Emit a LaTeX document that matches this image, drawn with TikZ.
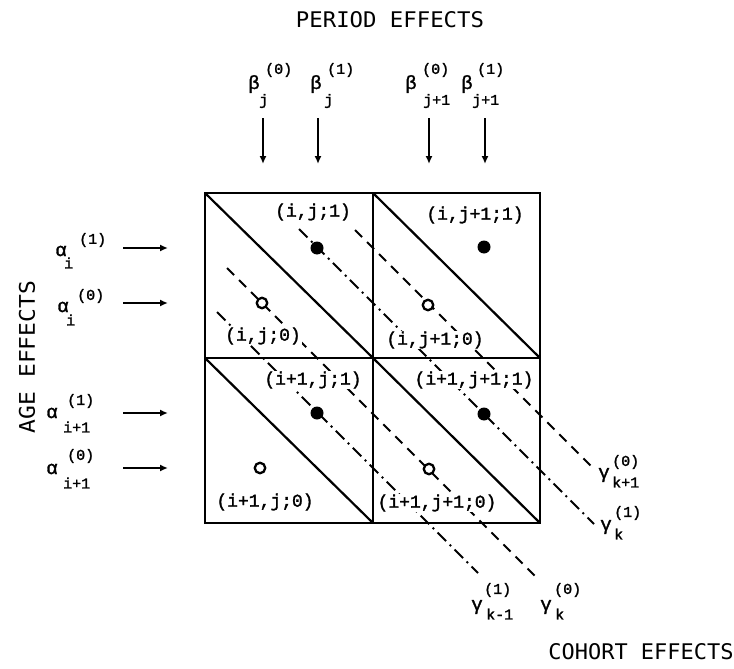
\documentclass[tikz,border=0pt]{standalone}
\usepackage{fontspec}
\setmainfont{Liberation Mono}[UprightFeatures={FakeBold=1.6}]
\newfontfamily\headfont{DejaVu Sans Mono}
\usetikzlibrary{arrows.meta}
\tikzset{
  gridline/.style={line width=2.6pt},
  diagline/.style={line width=2.2pt},
  dsh/.style={line width=2pt, dash pattern=on 10pt off 7pt},
  dshdot/.style={line width=2pt, dash pattern=on 12pt off 5pt on 2pt off 5pt},
  arr/.style={line width=2.2pt, -{Latex[length=8pt,width=7pt]}},
  lbl/.style={font=\fontsize{18}{18}\selectfont, fill=white, inner sep=1pt},
  greek/.style={font=\fontsize{19}{19}\selectfont, inner sep=0pt},
  idx/.style={font=\fontsize{15}{15}\selectfont, inner sep=0pt, anchor=west},
  fdot/.style={circle, fill=black, minimum size=13pt, inner sep=0pt},
  odot/.style={circle, draw, fill=white, line width=2.3pt, minimum size=10.5pt, inner sep=0pt},
  head/.style={inner sep=0pt}
}
\begin{document}
\begin{tikzpicture}[x=1pt,y=-1pt]
\useasboundingbox (0,0) rectangle (734,669);
% headings
\node[head] (period) at (390,20) {\resizebox{188pt}{16pt}{\headfont PERIOD EFFECTS}};
\node[head, rotate=90] (age) at (27,357) {\resizebox{152pt}{16pt}{\headfont AGE EFFECTS}};
\node[head] (cohort) at (641,652) {\resizebox{185pt}{16pt}{\headfont COHORT EFFECTS}};
% grid coordinates
\coordinate (g00) at (205,193); \coordinate (g10) at (373,193); \coordinate (g20) at (540,193);
\coordinate (g01) at (205,358); \coordinate (g11) at (373,358); \coordinate (g21) at (540,358);
\coordinate (g02) at (205,523); \coordinate (g12) at (373,523); \coordinate (g22) at (540,523);
% cohort lines
\coordinate (cA1) at (355,230); \coordinate (cA2) at (594,469);
\coordinate (cB1) at (299,229); \coordinate (cB2) at (594,524);
\coordinate (cC1) at (227,268); \coordinate (cC2) at (537,578);
\coordinate (cD1) at (217,312); \coordinate (cD2) at (478,573);
\draw[dsh] (cA1) -- (cA2);
\draw[dshdot] (cB1) -- (cB2);
\draw[dsh] (cC1) -- (cC2);
\draw[dshdot] (cD1) -- (cD2);
% cell labels
\node[lbl] (l1) at (313,212) {(i,j;1)};
\node[lbl] (l2) at (263,336) {(i,j;0)};
\node[lbl] (l3) at (475,215) {(i,j+1;1)};
\node[lbl] (l4) at (435,340) {(i,j+1;0)};
\node[lbl] (l5) at (313,380) {(i+1,j;1)};
\node[lbl] (l6) at (265,502) {(i+1,j;0)};
\node[lbl] (l7) at (474,380) {(i+1,j+1;1)};
\node[lbl] (l8) at (437,503) {(i+1,j+1;0)};
% grid
\draw[gridline] (g00) rectangle (g22);
\draw[gridline] (g10) -- (g12);
\draw[gridline] (g01) -- (g21);
\draw[diagline] (g00) -- (g11);
\draw[diagline] (g10) -- (g21);
\draw[diagline] (g01) -- (g12);
\draw[diagline] (g11) -- (g22);
% dots
\node[fdot] (f1) at (317,248) {};
\node[fdot] (f2) at (484,247) {};
\node[fdot] (f3) at (317,413) {};
\node[fdot] (f4) at (484,414) {};
\node[odot] (o1) at (262,303) {};
\node[odot] (o2) at (428,305) {};
\node[odot] (o3) at (260,468) {};
\node[odot] (o4) at (429,469) {};
% beta labels
\node[greek] (b1) at (254,84) {β};
\node[idx] (b1s) at (265,70) {(0)};
\node[idx] (b1b) at (259,101) {j};
\node[greek] (b2) at (316,84) {β};
\node[idx] (b2s) at (327,70) {(1)};
\node[idx] (b2b) at (324,101) {j};
\node[greek] (b3) at (411,84) {β};
\node[idx] (b3s) at (422,70) {(0)};
\node[idx] (b3b) at (423,101) {j+1};
\node[greek] (b4) at (467,84) {β};
\node[idx] (b4s) at (477,70) {(1)};
\node[idx] (b4b) at (472,101) {j+1};
% beta arrows
\coordinate (bt1) at (263,118); \coordinate (bh1) at (263,164);
\coordinate (bt2) at (318,118); \coordinate (bh2) at (318,164);
\coordinate (bt3) at (429,118); \coordinate (bh3) at (429,164);
\coordinate (bt4) at (485,118); \coordinate (bh4) at (485,164);
\draw[arr] (bt1) -- (bh1);
\draw[arr] (bt2) -- (bh2);
\draw[arr] (bt3) -- (bh3);
\draw[arr] (bt4) -- (bh4);
% alpha labels
\node[greek] (a1) at (61,251) {α};
\node[idx] (a1s) at (79,240) {(1)};
\node[idx] (a1b) at (64,263) {i};
\node[greek] (a2) at (63,307) {α};
\node[idx] (a2s) at (77,296) {(0)};
\node[idx] (a2b) at (66,320) {i};
\node[greek] (a3) at (52,413) {α};
\node[idx] (a3s) at (67,401) {(1)};
\node[idx] (a3b) at (63,427) {i+1};
\node[greek] (a4) at (52,469) {α};
\node[idx] (a4s) at (67,456) {(0)};
\node[idx] (a4b) at (63,483) {i+1};
% alpha arrows
\coordinate (at1) at (123,248); \coordinate (ah1) at (168,248);
\coordinate (at2) at (123,303); \coordinate (ah2) at (168,303);
\coordinate (at3) at (123,413); \coordinate (ah3) at (168,413);
\coordinate (at4) at (123,468); \coordinate (ah4) at (168,468);
\draw[arr] (at1) -- (ah1);
\draw[arr] (at2) -- (ah2);
\draw[arr] (at3) -- (ah3);
\draw[arr] (at4) -- (ah4);
% gamma labels
\node[idx] (c1s) at (612,462) {(0)};
\node[greek] (c1) at (604,475) {γ};
\node[idx] (c1b) at (612,482) {k+1};
\node[idx] (c2s) at (614,513) {(1)};
\node[greek] (c2) at (606,527) {γ};
\node[idx] (c2b) at (614,534) {k};
\node[idx] (c3s) at (484,590) {(1)};
\node[greek] (c3) at (477,607) {γ};
\node[idx] (c3b) at (486,614) {k-1};
\node[idx] (c4s) at (554,590) {(0)};
\node[greek] (c4) at (546,607) {γ};
\node[idx] (c4b) at (555,614) {k};
\end{tikzpicture}
\end{document}
